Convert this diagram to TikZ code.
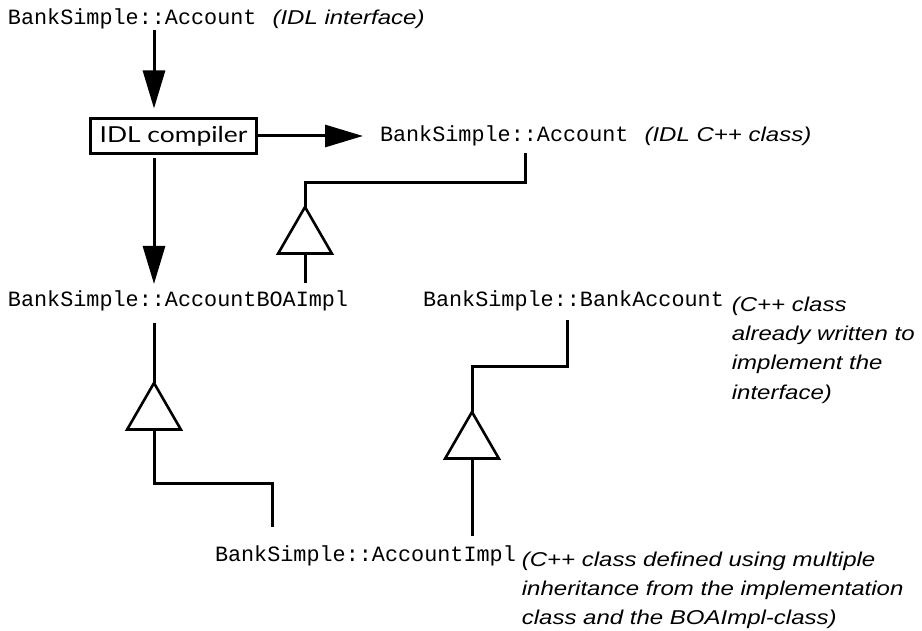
\documentclass[tikz,border=0pt]{standalone}
\usepackage{fontspec}
\setmonofont{Liberation Mono}
\newfontfamily\notefont{Liberation Sans}[FakeStretch=1.2]
\newfontfamily\boxfont{Lato}[FakeStretch=1.2]
\usetikzlibrary{arrows.meta,positioning,shapes.geometric}
\tikzset{
  cls/.style={font={\ttfamily\fontsize{21.8}{26}\selectfont}, inner sep=0pt, outer sep=0pt, text height=14pt, text depth=5pt},
  note/.style={font={\notefont\itshape\fontsize{20}{29.3}\selectfont}, inner sep=0pt, outer sep=0pt, align=left},
  compiler/.style={draw, line width=3pt, font={\boxfont\fontsize{22}{26}\selectfont}, minimum width=166pt, minimum height=35pt, inner sep=0pt, outer sep=0pt},
  link/.style={line width=3pt},
  flow/.style={link, -{Triangle[length=38pt,width=22pt]}},
  inh/.style={regular polygon, regular polygon sides=3, draw, line width=2.6pt, fill=white, minimum size=62pt, inner sep=0pt, outer sep=0pt}
}
\begin{document}
\begin{tikzpicture}[x=1pt,y=-1pt]
\useasboundingbox (0,0) rectangle (922,631);
% columns of the connectors
\coordinate (col1) at (154,0);
\coordinate (col2) at (525,0);
\coordinate (col3) at (272,0);
\coordinate (col4) at (567,0);
% classes
\node[cls, anchor=base west] (acc) at (8,25) {BankSimple::Account};
\node[note, base right=16pt of acc] (accnote) {(IDL interface)};
\node[compiler] (cmp) at (173.5,136) {IDL compiler};
\node[cls, anchor=base west] (cls) at (380,142) {BankSimple::Account};
\node[note, base right=16pt of cls] (clsnote) {(IDL C++ class)};
\node[cls, anchor=base west] (boa) at (8,307) {BankSimple::AccountBOAImpl};
\node[cls, anchor=base west] (bacc) at (423,307) {BankSimple::BankAccount};
\node[note, anchor=north west] (baccnote) at ([xshift=8pt,yshift=-3.7pt]bacc.north east) {(C++ class\\already written to\\implement the\\interface)};
\node[cls, anchor=base west] (impl) at (215,561) {BankSimple::AccountImpl};
\node[note, anchor=north west] (implnote) at ([xshift=6pt,yshift=-4.7pt]impl.north east) {(C++ class defined using multiple\\inheritance from the implementation\\class and the BOAImpl-class)};
% compiler
\draw[flow, shorten >=10pt] (acc.south -| col1) -- (cmp.north -| col1);
\draw[flow, shorten <=5pt, shorten >=9pt] (cmp.south -| col1) -- (boa.north -| col1);
\draw[flow, shorten >=17pt] (cmp.east) -- (cmp.east -| cls.west);
% inheritance
\draw[link, shorten <=6pt] (cls.south -| col2) -- ++(0,36) -| (305,207) coordinate (t1top);
\draw[link, shorten <=11pt] (boa.south -| col1) -- (154,383) coordinate (t2top);
\draw[link, shorten <=8pt] (bacc.south -| col4) -- ++(0,55) -| (472,412) coordinate (t3top);
\node[inh, anchor=corner 1] (t1) at (t1top) {};
\node[inh, anchor=corner 1] (t2) at (t2top) {};
\node[inh, anchor=corner 1] (t3) at (t3top) {};
\draw[link, shorten >=10pt] (t1.side 2) -- (t1.side 2 |- boa.north);
\draw[link, shorten >=20pt] (t2.side 2) -- ++(0,53.5) -| (impl.north -| col3);
\draw[link, shorten >=11pt] (t3.side 2) -- (t3.side 2 |- impl.north);
\end{tikzpicture}
\end{document}
